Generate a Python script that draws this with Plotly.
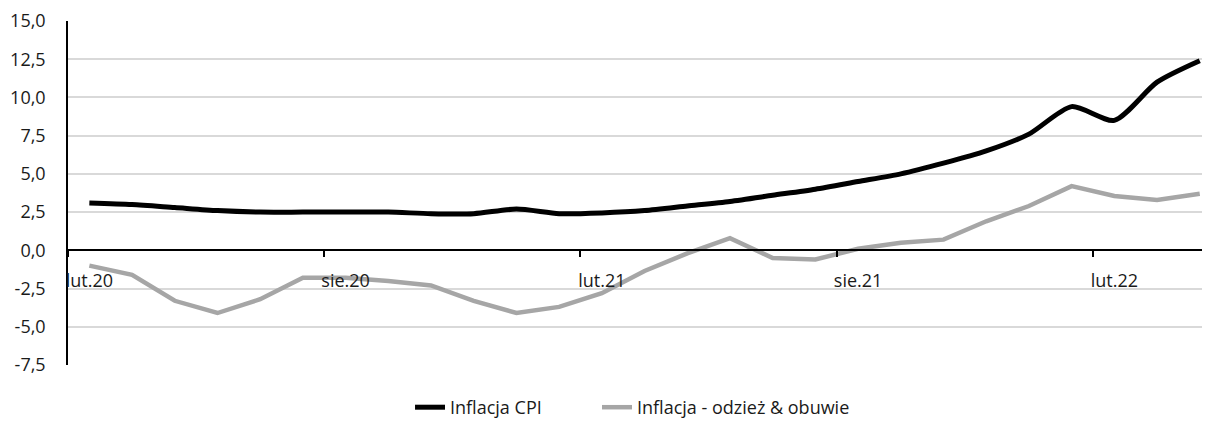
import plotly.graph_objects as go

# monthly data, Feb 2020 - Apr 2022
months = ["lut.20", "mar.20", "kwi.20", "maj.20", "cze.20", "lip.20", "sie.20", "wrz.20", "paź.20",
          "lis.20", "gru.20", "sty.21", "lut.21", "mar.21", "kwi.21", "maj.21", "cze.21", "lip.21",
          "sie.21", "wrz.21", "paź.21", "lis.21", "gru.21", "sty.22", "lut.22", "mar.22", "kwi.22"]
cpi = [3.1, 3.0, 2.8, 2.6, 2.5, 2.5, 2.5, 2.5, 2.4, 2.4, 2.7, 2.4, 2.45, 2.6, 2.9, 3.2, 3.6,
       4.0, 4.5, 5.0, 5.7, 6.5, 7.6, 9.4, 8.5, 11.0, 12.4]
clothing = [-1.0, -1.6, -3.3, -4.1, -3.2, -1.8, -1.8, -2.0, -2.3, -3.3, -4.1, -3.7, -2.8, -1.35,
            -0.2, 0.8, -0.5, -0.6, 0.1, 0.5, 0.7, 1.9, 2.9, 4.2, 3.55, 3.3, 3.7]
y_ticks = [-7.5, -5.0, -2.5, 0.0, 2.5, 5.0, 7.5, 10.0, 12.5, 15.0]
y_labels = ["-7,5", "-5,0", "-2,5", "0,0", "2,5", "5,0", "7,5", "10,0", "12,5", "15,0"]
label_every = 6

x = list(range(len(months)))
font = "Open Sans"

fig = go.Figure()
fig.add_trace(go.Scatter(x=x, y=cpi, name="Inflacja CPI", mode="lines", legend="legend",
                         line=dict(color="#000000", width=5, shape="spline", smoothing=0.7)))
fig.add_trace(go.Scatter(x=x, y=clothing, name="Inflacja - odzież & obuwie", mode="lines",
                         legend="legend2", line=dict(color="#a6a6a6", width=4.5)))
# dummy trace so the label axis exists
fig.add_trace(go.Scatter(x=x, y=cpi, xaxis="x2", mode="lines", showlegend=False,
                         hoverinfo="skip", line=dict(width=0, color="rgba(0,0,0,0)")))

zero_pos = 7.5 / 22.5  # where y=0 sits in the plot area

# page body has an 8px margin, so the figure is a bit smaller than the window
fig.update_layout(
    width=1202, height=418,
    margin=dict(l=60, r=0, t=13, b=59),
    plot_bgcolor="white", paper_bgcolor="white",
    font=dict(family=font, size=18, color="#1a1a1a"),
    showlegend=True,
    legend=dict(orientation="h", x=0.2995, xanchor="left", y=-0.124, yanchor="middle",
                font=dict(size=18)),
    legend2=dict(orientation="h", x=0.4632, xanchor="left", y=-0.124, yanchor="middle",
                 font=dict(size=18)),
    xaxis=dict(range=[-0.5, 26.24], anchor="free", position=zero_pos, automargin=False,
               tickvals=[i - 0.5 for i in range(0, len(months), label_every)],
               ticktext=["" for i in range(0, len(months), label_every)],
               ticks="outside", ticklen=6, tickwidth=1.5, tickcolor="black",
               showline=True, linecolor="black", linewidth=1.5, showgrid=False, zeroline=False),
    xaxis2=dict(range=[-0.5, 26.24], overlaying="x", anchor="free", position=zero_pos,
                automargin=False,
                tickvals=x[::label_every], ticktext=months[::label_every],
                ticks="", ticklabelstandoff=18, showline=False, showgrid=False, zeroline=False,
                side="bottom"),
    yaxis=dict(range=[-7.5, 15], tickvals=y_ticks, ticktext=y_labels, automargin=False,
               showline=True, linecolor="black", linewidth=1.5,
               showgrid=True, gridcolor="#d9d9d9", gridwidth=1.5, zeroline=False,
               ticks="", ticklabelstandoff=17),
)

fig.write_html("out.html")
